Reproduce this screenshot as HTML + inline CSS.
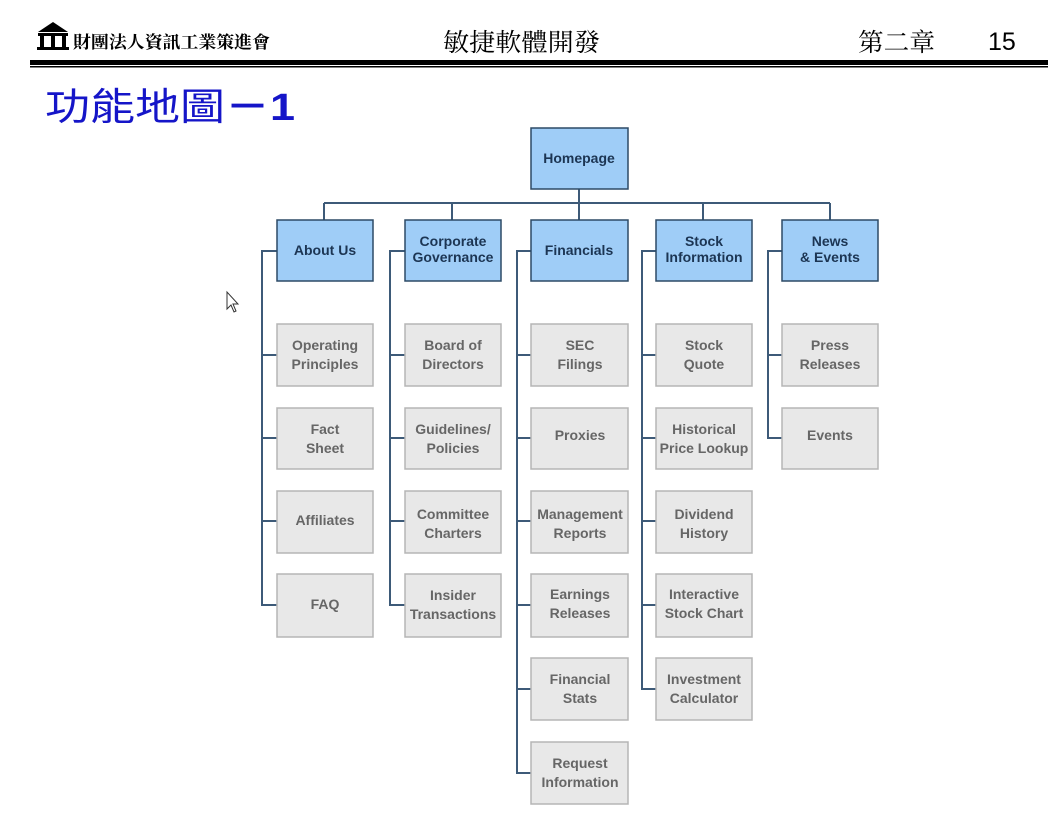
<!DOCTYPE html>
<html><head><meta charset="utf-8"><style>
html,body{margin:0;padding:0;background:#fff;width:1064px;height:829px;overflow:hidden}
</style></head><body>
<svg width="1064" height="829" xmlns="http://www.w3.org/2000/svg" font-family="Liberation Sans, Arial, sans-serif">
<rect width="1064" height="829" fill="#fff"/>
<g fill="#000">
<polygon points="38,32 53,22 68,32"/>
<rect x="38" y="33" width="30" height="3"/>
<rect x="40" y="36" width="4" height="12"/><rect x="51" y="36" width="4" height="12"/><rect x="62" y="36" width="4" height="12"/>
<rect x="37" y="47" width="32" height="3"/>
</g>
<text x="73" y="48" font-size="17" font-weight="bold" font-family="Liberation Serif, Noto Serif CJK SC, serif" textLength="197" lengthAdjust="spacingAndGlyphs">財團法人資訊工業策進會</text>
<text x="443" y="51" font-size="25" font-family="Liberation Serif, Noto Serif CJK SC, serif" textLength="157" lengthAdjust="spacingAndGlyphs">敏捷軟體開發</text>
<text x="858" y="51" font-size="25" font-family="Liberation Serif, Noto Serif CJK SC, serif" textLength="77" lengthAdjust="spacingAndGlyphs">第二章</text>
<text x="988" y="50" font-size="25">15</text>
<rect x="30" y="60" width="1018" height="5" fill="#000"/>
<rect x="30" y="66" width="1018" height="1.5" fill="#000"/>
<text x="45" y="120" font-size="38" fill="#1515c8" font-family="Liberation Sans, Noto Sans CJK TC, sans-serif" textLength="250" lengthAdjust="spacingAndGlyphs">功能地圖<tspan font-weight="bold">－1</tspan></text>
<polygon points="227,292 227,309 231,305 234,312 236,311 233,304 238,304" fill="#fff" stroke="#333" stroke-width="1"/>
<g stroke="#3d5a78" stroke-width="2" fill="none">
<line x1="579" y1="189" x2="579" y2="220"/>
<line x1="324" y1="203" x2="830" y2="203"/>
<line x1="324" y1="203" x2="324" y2="220"/><line x1="452" y1="203" x2="452" y2="220"/><line x1="703" y1="203" x2="703" y2="220"/><line x1="830" y1="203" x2="830" y2="220"/>
<polyline points="277,251 262,251 262,605 277,605"/>
<line x1="262" y1="355" x2="277" y2="355"/><line x1="262" y1="438" x2="277" y2="438"/><line x1="262" y1="521" x2="277" y2="521"/>
<polyline points="405,251 390,251 390,605 405,605"/>
<line x1="390" y1="355" x2="405" y2="355"/><line x1="390" y1="438" x2="405" y2="438"/><line x1="390" y1="521" x2="405" y2="521"/>
<polyline points="531,251 517,251 517,773 531,773"/>
<line x1="517" y1="355" x2="531" y2="355"/><line x1="517" y1="438" x2="531" y2="438"/><line x1="517" y1="521" x2="531" y2="521"/><line x1="517" y1="605" x2="531" y2="605"/><line x1="517" y1="689" x2="531" y2="689"/>
<polyline points="656,251 642,251 642,689 656,689"/>
<line x1="642" y1="355" x2="656" y2="355"/><line x1="642" y1="438" x2="656" y2="438"/><line x1="642" y1="521" x2="656" y2="521"/><line x1="642" y1="605" x2="656" y2="605"/>
<polyline points="782,251 768,251 768,438 782,438"/>
<line x1="768" y1="355" x2="782" y2="355"/>
</g>
<g fill="#9fcdf7" stroke="#2d4a66" stroke-width="1.5">
<rect x="531" y="128" width="97" height="61"/>
<rect x="277" y="220" width="96" height="61"/>
<rect x="405" y="220" width="96" height="61"/>
<rect x="531" y="220" width="97" height="61"/>
<rect x="656" y="220" width="96" height="61"/>
<rect x="782" y="220" width="96" height="61"/>
</g>
<g fill="#1c3553" font-size="14" font-weight="bold" text-anchor="middle">
<text x="579" y="163">Homepage</text>
<text x="325" y="255">About Us</text>
<text x="453" y="246">Corporate</text><text x="453" y="262">Governance</text>
<text x="579" y="255">Financials</text>
<text x="704" y="246">Stock</text><text x="704" y="262">Information</text>
<text x="830" y="246">News</text><text x="830" y="262">&amp; Events</text>
</g>
<g fill="#e8e8e8" stroke="#b5b5b5" stroke-width="1.5">
<rect x="277" y="324" width="96" height="62"/><rect x="277" y="408" width="96" height="61"/><rect x="277" y="491" width="96" height="62"/><rect x="277" y="574" width="96" height="63"/>
<rect x="405" y="324" width="96" height="62"/><rect x="405" y="408" width="96" height="61"/><rect x="405" y="491" width="96" height="62"/><rect x="405" y="574" width="96" height="63"/>
<rect x="531" y="324" width="97" height="62"/><rect x="531" y="408" width="97" height="61"/><rect x="531" y="491" width="97" height="62"/><rect x="531" y="574" width="97" height="63"/><rect x="531" y="658" width="97" height="62"/><rect x="531" y="742" width="97" height="62"/>
<rect x="656" y="324" width="96" height="62"/><rect x="656" y="408" width="96" height="61"/><rect x="656" y="491" width="96" height="62"/><rect x="656" y="574" width="96" height="63"/><rect x="656" y="658" width="96" height="62"/>
<rect x="782" y="324" width="96" height="62"/><rect x="782" y="408" width="96" height="61"/>
</g>
<g fill="#666" font-size="14" text-anchor="middle" font-weight="bold">
<text x="325" y="350">Operating</text><text x="325" y="369">Principles</text>
<text x="325" y="434">Fact</text><text x="325" y="453">Sheet</text>
<text x="325" y="525">Affiliates</text>
<text x="325" y="609">FAQ</text>
<text x="453" y="350">Board of</text><text x="453" y="369">Directors</text>
<text x="453" y="434">Guidelines/</text><text x="453" y="453">Policies</text>
<text x="453" y="519">Committee</text><text x="453" y="538">Charters</text>
<text x="453" y="600">Insider</text><text x="453" y="619">Transactions</text>
<text x="580" y="350">SEC</text><text x="580" y="369">Filings</text>
<text x="580" y="440">Proxies</text>
<text x="580" y="519">Management</text><text x="580" y="538">Reports</text>
<text x="580" y="599">Earnings</text><text x="580" y="618">Releases</text>
<text x="580" y="684">Financial</text><text x="580" y="703">Stats</text>
<text x="580" y="768">Request</text><text x="580" y="787">Information</text>
<text x="704" y="350">Stock</text><text x="704" y="369">Quote</text>
<text x="704" y="434">Historical</text><text x="704" y="453">Price Lookup</text>
<text x="704" y="519">Dividend</text><text x="704" y="538">History</text>
<text x="704" y="599">Interactive</text><text x="704" y="618">Stock Chart</text>
<text x="704" y="684">Investment</text><text x="704" y="703">Calculator</text>
<text x="830" y="350">Press</text><text x="830" y="369">Releases</text>
<text x="830" y="440">Events</text>
</g>
</svg>
</body></html>
